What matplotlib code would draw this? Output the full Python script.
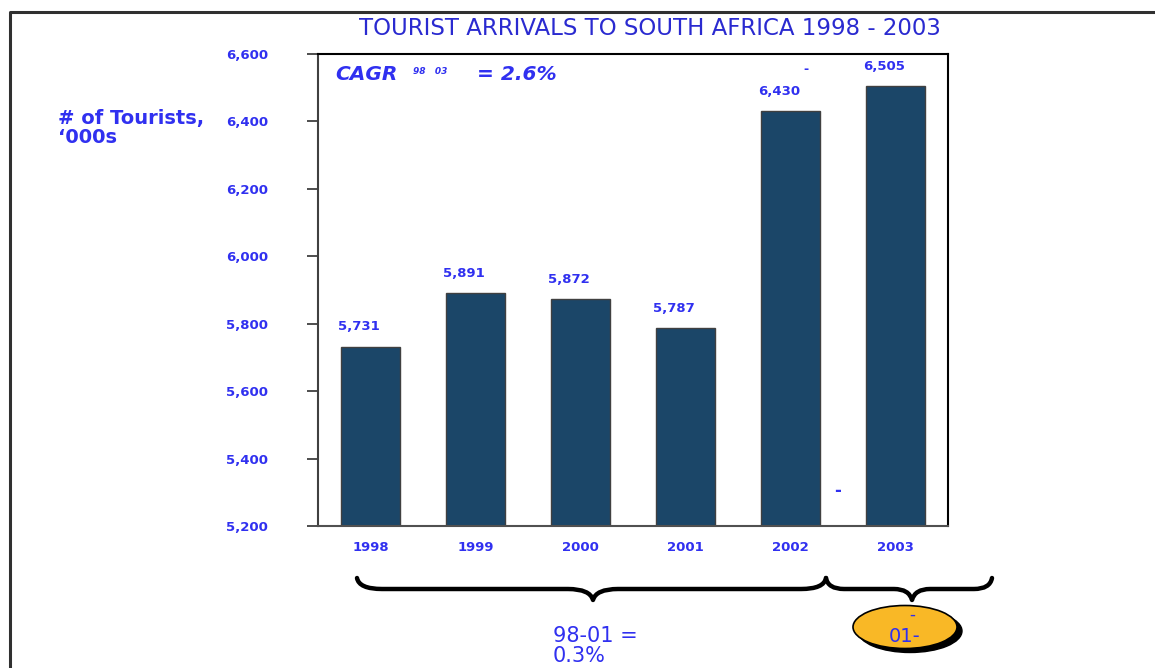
import matplotlib
matplotlib.use('Agg')
import matplotlib.pyplot as plt
from matplotlib.path import Path
from matplotlib.patches import PathPatch, Ellipse

# data
years = ['1998', '1999', '2000', '2001', '2002', '2003']
arrivals = [5731, 5891, 5872, 5787, 6430, 6505]
yticks = [5200, 5400, 5600, 5800, 6000, 6200, 6400, 6600]

blue = '#3030f0'
bar_col = '#1b4668'

plt.rcParams['font.family'] = ['DejaVu Sans']

fig = plt.figure(figsize=(11.55, 6.68), dpi=100)

# overlay in pixel coords for frame, braces, bubble
ov = fig.add_axes([0, 0, 1, 1], zorder=0)
ov.set_xlim(0, 1155)
ov.set_ylim(668, 0)
ov.axis('off')
ov.plot([10, 10, 1155], [668, 12, 12], color='#303030', lw=2.2)

ax = fig.add_axes([0.2753, 0.2126, 0.5455, 0.7066], zorder=1)
ax.patch.set_alpha(0)
x = range(len(years))
ax.bar(x, arrivals, width=0.57, color=bar_col, edgecolor='#404040', linewidth=1)
for i, v in enumerate(arrivals):
    ax.text(i - 0.11, v + 40, f'{v:,}', ha='center', va='bottom', color=blue,
            fontsize=9.5, fontweight='bold')
ax.set_xlim(-0.5, 5.5)
ax.set_ylim(5200, 6600)
ax.set_yticks(yticks)
ax.set_yticklabels([f'{t:,}' for t in yticks])
ax.set_xticks(list(x))
ax.set_xticklabels(years)
ax.tick_params(axis='y', direction='out', length=8, width=1.2, pad=28,
               labelcolor=blue, labelsize=9.5, color='#303030')
ax.tick_params(axis='x', length=0, pad=11, labelcolor=blue, labelsize=9.5)
for lab in ax.get_xticklabels() + ax.get_yticklabels():
    lab.set_fontweight('bold')
for s in ax.spines.values():
    s.set_linewidth(1.5)
    s.set_color('black')
ax.spines['left'].set_color('#404040')
ax.spines['bottom'].set_color('#505050')

# stray dashes
ax.text(4.15, 6555, '-', ha='center', va='center', color=blue, fontsize=9, fontweight='bold')
ax.text(4.45, 5305, '-', ha='center', va='center', color=blue, fontsize=12, fontweight='bold')

fig.text(0.5628, 0.957, 'TOURIST ARRIVALS TO SOUTH AFRICA 1998 - 2003', ha='center', va='center',
         color='#2a2ad0', fontsize=16.5)
fig.text(0.050, 0.808, "# of Tourists,\n\u2018000s", ha='left', va='center', color=blue,
         fontsize=14, fontweight='bold', linespacing=1.0)

ov.text(335, 75, 'CAGR', ha='left', va='center', color=blue, fontsize=14.5,
        fontweight='bold', style='italic')
ov.text(413, 71, '98   03', ha='left', va='center', color=blue, fontsize=6.5,
        fontweight='bold', style='italic')
ov.text(477, 75, '= 2.6%', ha='left', va='center', color=blue, fontsize=14.5,
        fontweight='bold', style='italic')


def brace(x0, x1, xm, y0, ym, yt, r=25):
    verts = [(x0, y0), (x0 + 2, ym), (x0 + r, ym),
             (xm - r, ym), (xm - 3, ym), (xm, yt),
             (xm + 3, ym), (xm + r, ym),
             (x1 - r, ym), (x1 - 2, ym), (x1, y0)]
    codes = [Path.MOVETO, Path.CURVE3, Path.CURVE3,
             Path.LINETO, Path.CURVE3, Path.CURVE3,
             Path.CURVE3, Path.CURVE3,
             Path.LINETO, Path.CURVE3, Path.CURVE3]
    ov.add_patch(PathPatch(Path(verts, codes), fill=False, lw=3.2, color='black',
                           capstyle='round', joinstyle='round'))


brace(357, 826, 593, 578, 589, 600)
brace(826, 992, 912, 578, 589, 600, r=18)

ov.add_patch(Ellipse((910, 631), 104, 43, color='black'))
ov.add_patch(Ellipse((905, 627), 104, 43, facecolor='#f9b826', edgecolor='black', lw=1.2))
ov.text(912, 615, '-', ha='center', va='center', color=blue, fontsize=12)
ov.text(905, 637, '01-', ha='center', va='center', color=blue, fontsize=14)

ov.text(553, 646, '98-01 =\n0.3%', ha='left', va='center', color=blue, fontsize=15,
        linespacing=1.0)

fig.savefig('out.png', dpi=100)
